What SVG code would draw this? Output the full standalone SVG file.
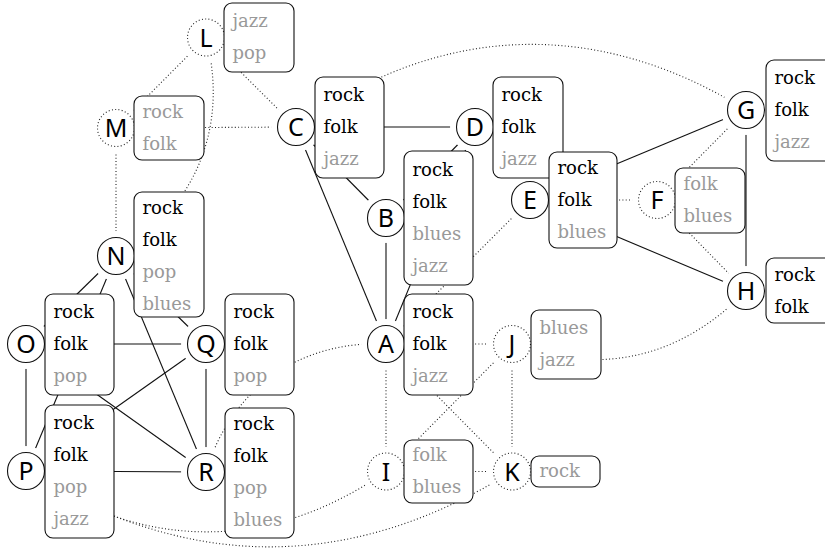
<svg xmlns="http://www.w3.org/2000/svg" width="825" height="550" viewBox="0 0 825 550">
<style>
.e{fill:none;stroke:#111;stroke-width:1.1}
.d{fill:none;stroke:#222;stroke-width:1.1;stroke-dasharray:1 2.3}
.c{fill:#fff;stroke:#111;stroke-width:1.1}
.cd{fill:#fff;stroke:#222;stroke-width:1.1;stroke-dasharray:1 2.3}
.b{fill:#fff;stroke:#111;stroke-width:1.1}
.t{font-family:"DejaVu Serif","Liberation Serif",serif;font-size:18px}
.k{fill:#000}
.g{fill:#999}
.n{font-family:"Noto Sans","DejaVu Sans",sans-serif;font-size:25px;text-anchor:middle;fill:#000}
</style>
<defs>
<mask id="clip" maskUnits="userSpaceOnUse" x="0" y="0" width="825" height="550">
<rect width="825" height="550" fill="#fff"/>
<g fill="#000">
<circle cx="206" cy="37.5" r="25"/><circle cx="116" cy="128" r="25"/><circle cx="296" cy="127" r="25"/>
<circle cx="475" cy="127" r="25"/><circle cx="386" cy="218" r="25"/><circle cx="530" cy="200" r="25"/>
<circle cx="657" cy="200" r="25"/><circle cx="746" cy="110" r="25"/><circle cx="746" cy="291" r="25"/>
<circle cx="116" cy="256" r="25"/><circle cx="26" cy="344" r="25"/><circle cx="206" cy="344" r="25"/>
<circle cx="386" cy="344" r="25"/><circle cx="512" cy="344" r="25"/><circle cx="26" cy="471" r="25"/>
<circle cx="206" cy="472" r="25"/><circle cx="386" cy="471.5" r="25"/><circle cx="512" cy="471.5" r="25"/>
</g>
</mask>
</defs>
<rect width="825" height="550" fill="#fff"/>
<g id="connectors" mask="url(#clip)">
<g class="e">
<path d="M296,127 L475,127"/>
<path d="M296,127 L386,218"/>
<path d="M296,127 L386,344"/>
<path d="M475,127 L386,218"/>
<path d="M475,127 L386,344"/>
<path d="M386,218 L386,344"/>
<path d="M530,200 L746,110"/>
<path d="M530,200 L746,291"/>
<path d="M746,110 L746,291"/>
<path d="M116,256 L26,344"/>
<path d="M116,256 L26,471"/>
<path d="M116,256 L206,344"/>
<path d="M116,256 L206,472"/>
<path d="M26,344 L206,344"/>
<path d="M26,344 L206,472"/>
<path d="M26,344 L26,471"/>
<path d="M26,471 L206,344"/>
<path d="M26,471 L206,472"/>
<path d="M206,344 L206,472"/>
</g>
<g class="d">
<path d="M206,37.5 L116,128"/>
<path d="M206,37.5 L296,127"/>
<path d="M206,37.5 C229.3,127 195.6,208.9 116,256"/>
<path d="M116,128 L296,127"/>
<path d="M116,128 L116,256"/>
<path d="M296,127 C438.3,23 596.2,17 746,110"/>
<path d="M530,200 L386,344"/>
<path d="M530,200 L657,200"/>
<path d="M657,200 L746,110"/>
<path d="M657,200 L746,291"/>
<path d="M206,472 C230.7,389.1 299.6,340.1 386,344"/>
<path d="M512,344 C600.1,376.5 680.5,358.3 746,291"/>
<path d="M386,344 L386,471.5"/>
<path d="M386,344 L512,344"/>
<path d="M386,344 L512,471.5"/>
<path d="M386,471.5 L512,344"/>
<path d="M386,471.5 L512,471.5"/>
<path d="M512,344 L512,471.5"/>
<path d="M26,471 C141.4,551.8 270.6,552.3 386,471.5"/>
<path d="M26,471 C187.4,571.8 350.6,572.3 512,471.5"/>
</g>
</g>
<g id="L"><circle class="cd" cx="206" cy="37.5" r="18.5"/><text class="n" x="206" y="46.5">L</text>
<rect class="b" x="224" y="3" width="70" height="69" rx="8"/>
<text class="t g" x="232.5" y="27">jazz</text><text class="t g" x="232.5" y="59">pop</text></g>
<g id="M"><circle class="cd" cx="116" cy="128" r="18.5"/><text class="n" x="116" y="137">M</text>
<rect class="b" x="134" y="96" width="70" height="64" rx="8"/>
<text class="t g" x="142.5" y="117.5">rock</text><text class="t g" x="142.5" y="149.5">folk</text></g>
<g id="C"><circle class="c" cx="296" cy="127" r="18.5"/><text class="n" x="296" y="136">C</text>
<rect class="b" x="315" y="77" width="69" height="101" rx="8"/>
<text class="t k" x="323.5" y="100.5">rock</text><text class="t k" x="323.5" y="132.5">folk</text><text class="t g" x="323.5" y="164.5">jazz</text></g>
<g id="D"><circle class="c" cx="475" cy="127" r="18.5"/><text class="n" x="475" y="136">D</text>
<rect class="b" x="493" y="77" width="70" height="101" rx="8"/>
<text class="t k" x="501.5" y="100.5">rock</text><text class="t k" x="501.5" y="132.5">folk</text><text class="t g" x="501.5" y="164.5">jazz</text></g>
<g id="B"><circle class="c" cx="386" cy="218" r="18.5"/><text class="n" x="386" y="227">B</text>
<rect class="b" x="404" y="151" width="69" height="134" rx="8"/>
<text class="t k" x="412.5" y="175.5">rock</text><text class="t k" x="412.5" y="207.5">folk</text><text class="t g" x="412.5" y="239.5">blues</text><text class="t g" x="412.5" y="271.5">jazz</text></g>
<g id="E"><circle class="c" cx="530" cy="200" r="18.5"/><text class="n" x="530" y="209">E</text>
<rect class="b" x="549" y="152" width="68" height="96" rx="8"/>
<text class="t k" x="557.5" y="173.5">rock</text><text class="t k" x="557.5" y="205.5">folk</text><text class="t g" x="557.5" y="237.5">blues</text></g>
<g id="F"><circle class="cd" cx="657" cy="200" r="18.5"/><text class="n" x="657" y="209">F</text>
<rect class="b" x="675" y="168" width="70" height="65" rx="8"/>
<text class="t g" x="683.5" y="189.5">folk</text><text class="t g" x="683.5" y="221.5">blues</text></g>
<g id="G"><circle class="c" cx="746" cy="110" r="18.5"/><text class="n" x="746" y="119">G</text>
<rect class="b" x="766" y="60" width="70" height="101" rx="8"/>
<text class="t k" x="774.5" y="83.5">rock</text><text class="t k" x="774.5" y="115.5">folk</text><text class="t g" x="774.5" y="147.5">jazz</text></g>
<g id="H"><circle class="c" cx="746" cy="291" r="18.5"/><text class="n" x="746" y="300">H</text>
<rect class="b" x="766" y="258" width="70" height="65" rx="8"/>
<text class="t k" x="774.5" y="280.5">rock</text><text class="t k" x="774.5" y="312.5">folk</text></g>
<g id="N"><circle class="c" cx="116" cy="256" r="18.5"/><text class="n" x="116" y="265">N</text>
<rect class="b" x="134" y="192" width="70" height="125" rx="8"/>
<text class="t k" x="142.5" y="213.5">rock</text><text class="t k" x="142.5" y="245.5">folk</text><text class="t g" x="142.5" y="277.5">pop</text><text class="t g" x="142.5" y="309.5">blues</text></g>
<g id="O"><circle class="c" cx="26" cy="344" r="18.5"/><text class="n" x="26" y="353">O</text>
<rect class="b" x="45" y="294" width="69" height="101" rx="8"/>
<text class="t k" x="53.5" y="317.5">rock</text><text class="t k" x="53.5" y="349.5">folk</text><text class="t g" x="53.5" y="381.5">pop</text></g>
<g id="Q"><circle class="c" cx="206" cy="344" r="18.5"/><text class="n" x="206" y="353">Q</text>
<rect class="b" x="225" y="294" width="69" height="101" rx="8"/>
<text class="t k" x="233.5" y="317.5">rock</text><text class="t k" x="233.5" y="349.5">folk</text><text class="t g" x="233.5" y="381.5">pop</text></g>
<g id="A"><circle class="c" cx="386" cy="344" r="18.5"/><text class="n" x="386" y="353">A</text>
<rect class="b" x="404" y="294" width="69" height="101" rx="8"/>
<text class="t k" x="412.5" y="317.5">rock</text><text class="t k" x="412.5" y="349.5">folk</text><text class="t g" x="412.5" y="381.5">jazz</text></g>
<g id="J"><circle class="cd" cx="512" cy="344" r="18.5"/><text class="n" x="512" y="353">J</text>
<rect class="b" x="531" y="310" width="70" height="69" rx="8"/>
<text class="t g" x="539.5" y="333.5">blues</text><text class="t g" x="539.5" y="365.5">jazz</text></g>
<g id="P"><circle class="c" cx="26" cy="471" r="18.5"/><text class="n" x="26" y="480">P</text>
<rect class="b" x="45" y="405" width="69" height="133" rx="8"/>
<text class="t k" x="53.5" y="428.5">rock</text><text class="t k" x="53.5" y="460.5">folk</text><text class="t g" x="53.5" y="492.5">pop</text><text class="t g" x="53.5" y="524.5">jazz</text></g>
<g id="R"><circle class="c" cx="206" cy="472" r="18.5"/><text class="n" x="206" y="481">R</text>
<rect class="b" x="225" y="408" width="69" height="130" rx="8"/>
<text class="t k" x="233.5" y="429.5">rock</text><text class="t k" x="233.5" y="461.5">folk</text><text class="t g" x="233.5" y="493.5">pop</text><text class="t g" x="233.5" y="525.5">blues</text></g>
<g id="I"><circle class="cd" cx="386" cy="471.5" r="18.5"/><text class="n" x="386" y="480.5">I</text>
<rect class="b" x="404" y="440" width="69" height="63" rx="8"/>
<text class="t g" x="412.5" y="461">folk</text><text class="t g" x="412.5" y="493">blues</text></g>
<g id="K"><circle class="cd" cx="512" cy="471.5" r="18.5"/><text class="n" x="512" y="480.5">K</text>
<rect class="b" x="531" y="456" width="69" height="31" rx="8"/>
<text class="t g" x="539.5" y="477">rock</text></g>
</svg>
